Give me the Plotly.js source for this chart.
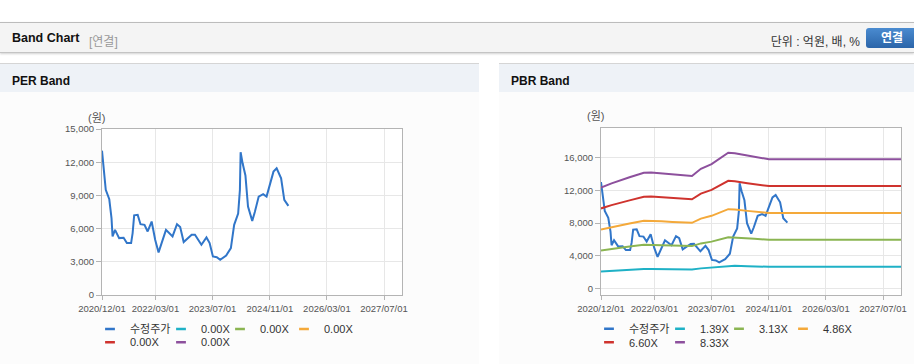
<!DOCTYPE html>
<html><head><meta charset="utf-8">
<script src="https://cdn.plot.ly/plotly-3.0.1.min.js"></script>
<style>
html,body{margin:0;padding:0;background:#fff;}
body{width:914px;height:364px;position:relative;overflow:hidden;font-family:"Liberation Sans","Noto Sans CJK KR",sans-serif;}
#hdr{position:absolute;left:0;top:22px;width:914px;height:29px;background:#f4f4f4;border-top:1px solid #bcbcbc;border-bottom:1px solid #c4c4c4;box-shadow:0 1px 2px rgba(0,0,0,0.18);}
#hdr .t{position:absolute;left:12px;top:8px;font-size:12.5px;font-weight:bold;color:#111;}
#hdr .s{position:absolute;left:89px;top:9px;font-size:12px;color:#999;}
#hdr .u{position:absolute;right:54px;top:9px;font-size:12px;color:#333;}
#hdr .b{position:absolute;left:866px;top:5px;width:52px;height:20px;border-radius:3px;background:linear-gradient(#4a8bd0,#2b65a9);color:#fff;font-weight:bold;font-size:12px;line-height:20px;text-align:center;}
.panel{position:absolute;top:63px;height:301px;background:#fcfcfc;border-top:1px solid #d5d5d5;}
.panel .h{height:28px;background:#eef2f7;position:relative;}
.panel .h span{position:absolute;left:12px;top:10px;font-size:12px;font-weight:bold;color:#111;}
.chart{position:absolute;top:92px;height:290px;}
</style></head>
<body>
<div id="hdr"><span class="t">Band Chart</span><span class="s">[연결]</span><span class="u">단위 : 억원, 배, %</span><span class="b">연결</span></div>
<div class="panel" style="left:0;width:479px;"><div class="h"><span>PER Band</span></div></div>
<div class="panel" style="left:499px;width:415px;"><div class="h"><span>PBR Band</span></div></div>
<div id="per" class="chart" style="left:0;width:479px;"></div>
<div id="pbr" class="chart" style="left:499px;width:415px;"></div>
<script>
// ---- data ----
const priceDates = ['2020-12-01','2020-12-09','2020-12-22','2021-01-02','2021-02-01','2021-02-20','2021-03-01','2021-03-22','2021-04-26','2021-06-03','2021-07-01','2021-08-06','2021-08-19','2021-09-01','2021-10-01','2021-10-25','2021-11-28','2021-12-25','2022-01-28','2022-02-27','2022-03-28','2022-05-04','2022-05-30','2022-07-25','2022-09-01','2022-09-28','2022-10-28','2023-01-04','2023-02-01','2023-03-28','2023-05-10','2023-06-06','2023-07-04','2023-08-06','2023-09-04','2023-10-25','2023-12-04','2024-01-01','2024-02-04','2024-02-19','2024-02-25','2024-03-13','2024-04-06','2024-04-28','2024-06-03','2024-06-25','2024-07-28','2024-09-04','2024-10-03','2024-12-01','2024-12-28','2025-02-04','2025-03-03','2025-04-07'];
const price = [13040,12200,10500,9500,8650,6950,5290,5890,5140,5170,4690,4690,5600,7200,7240,6400,6340,5740,6640,4990,3850,4990,5890,5290,6400,6150,4780,5440,5450,4540,5200,4690,3480,3420,3180,3570,4240,6340,7350,9500,12900,11900,10800,7990,6700,7490,8890,9110,8890,11150,11450,10550,8600,8050];

const bandDates = ['2020-12-01','2021-03-01','2021-08-01','2021-12-01','2022-02-01','2022-05-01','2022-08-01','2022-12-01','2023-01-15','2023-04-01','2023-07-01','2023-11-20','2024-01-15','2024-05-01','2024-07-01','2024-11-01','2027-12-01'];
const pbr139 = [2064,2149,2273,2367,2370,2349,2328,2299,2299,2446,2544,2777,2766,2717,2697,2641,2641];
const pbr313 = [4648,4839,5118,5330,5337,5290,5243,5177,5177,5509,5728,6254,6229,6119,6072,5947,5947];
const pbr486 = [7217,7514,7946,8277,8286,8213,8141,8038,8038,8554,8894,9710,9671,9501,9428,9234,9234];
const pbr660 = [9801,10204,10791,11240,11253,11154,11055,10916,10916,11616,12078,13187,13134,12903,12804,12540,12540];
const pbr833 = [12370,12878,13620,14186,14203,14078,13953,13778,13778,14661,15244,16643,16577,16285,16160,15827,15827];

const priceName = '수정주가';
const perBandNames = ['0.00X','0.00X','0.00X','0.00X','0.00X'];
const pbrBandNames = ['1.39X','3.13X','4.86X','6.60X','8.33X'];

const xTickVals = ['2020-12-01','2022-03-01','2023-07-01','2024-11-01','2026-03-01','2027-07-01'];
const xTickText = ['2020/12/01','2022/03/01','2023/07/01','2024/11/01','2026/03/01','2027/07/01'];
const perYTicks = [0,3000,6000,9000,12000,15000];
const pbrYTicks = [0,4000,8000,12000,16000];
const unitLabel = '(원)';

// ---- styles ----
const FONT = 'Liberation Sans, Noto Sans CJK KR, sans-serif';
const priceColor = '#3176c9';
const bandColors = ['#1fb1c6','#8bb552','#f4a93a','#cf332e','#8d509d'];
const gridC = '#e7e7e7', lineC = '#b4b4b4';

function xAxis(){
  return {type:'date', range:['2020-12-01','2027-12-01'], tickmode:'array', tickvals:xTickVals, ticktext:xTickText,
    showgrid:true, gridcolor:gridC, gridwidth:1, showline:true, linecolor:lineC, linewidth:1, mirror:true,
    ticks:'outside', ticklen:4, tickcolor:lineC, ticklabelstandoff:1, tickfont:{family:FONT,size:9.5,color:'#555'}, zeroline:false, fixedrange:true};
}
function yAxis(range, ticks){
  return {range:range, tickmode:'array', tickvals:ticks, tickformat:',', showgrid:true, gridcolor:gridC, gridwidth:1,
    showline:true, linecolor:lineC, linewidth:1, mirror:true, ticks:'outside', ticklen:5, tickcolor:lineC,
    tickfont:{family:FONT,size:9.5,color:'#555'}, zeroline:false, fixedrange:true};
}
function legendTrace(name, color, lg, w){
  return {x:[null], y:[null], type:'scatter', mode:'markers', name:name, legend:lg, legendwidth:w, hoverinfo:'skip',
    marker:{symbol:'line-ew', size:7, color:color, line:{color:color, width:2.5}}};
}
function legendObj(x, y){
  return {orientation:'h', x:x, xanchor:'left', y:y, yanchor:'top', font:{family:FONT,size:11,color:'#333'},
    bgcolor:'rgba(0,0,0,0)', borderwidth:0, itemclick:false, itemdoubleclick:false};
}
function legendTraces(bandNames){
  const allNames = [priceName].concat(bandNames);
  const allColors = [priceColor].concat(bandColors);
  const widths = [26,14,19,45,26,45];
  return allNames.map((n,i)=>legendTrace(n, allColors[i], i<4?'legend':'legend2', widths[i]));
}
function layout(w, l, r, t, b, yr, yt, ly1, ly2, annY){
  return {width:w, height:290, margin:{l:l,r:r,t:t,b:b,pad:0}, paper_bgcolor:'#fcfcfc', plot_bgcolor:'#ffffff',
    font:{family:FONT,size:11,color:'#444'}, showlegend:true, xaxis:xAxis(), yaxis:yAxis(yr, yt),
    legend:legendObj(-0.04, ly1), legend2:legendObj(-0.04, ly2),
    annotations:[{text:unitLabel, xref:'paper', yref:'paper', x:-0.017, y:annY, showarrow:false,
      xanchor:'center', yanchor:'middle', font:{family:FONT,size:11,color:'#555'}}]};
}
const cfg = {staticPlot:true, displayModeBar:false};

// PER chart
const perTraces = [{x:priceDates, y:price, type:'scatter', mode:'lines', name:priceName, showlegend:false,
  line:{color:priceColor, width:2}}].concat(legendTraces(perBandNames));
Plotly.newPlot('per', perTraces, layout(479, 102, 77, 37, 87, [0,15000], perYTicks, -0.117, -0.197, 1.069), cfg);

// PBR chart
const pbrSeries = [pbr139, pbr313, pbr486, pbr660, pbr833];
const pbrTraces = [{x:priceDates, y:price, type:'scatter', mode:'lines', name:priceName, showlegend:false,
  line:{color:priceColor, width:2}}]
  .concat(pbrSeries.map((s,i)=>({x:bandDates, y:s, type:'scatter', mode:'lines', name:pbrBandNames[i], showlegend:false,
    line:{color:bandColors[i], width:2}})))
  .concat(legendTraces(pbrBandNames));
Plotly.newPlot('pbr', pbrTraces, layout(415, 102, 13, 36, 87, [-822,19669], pbrYTicks, -0.116, -0.196, 1.069), cfg);
</script>
</body></html>
